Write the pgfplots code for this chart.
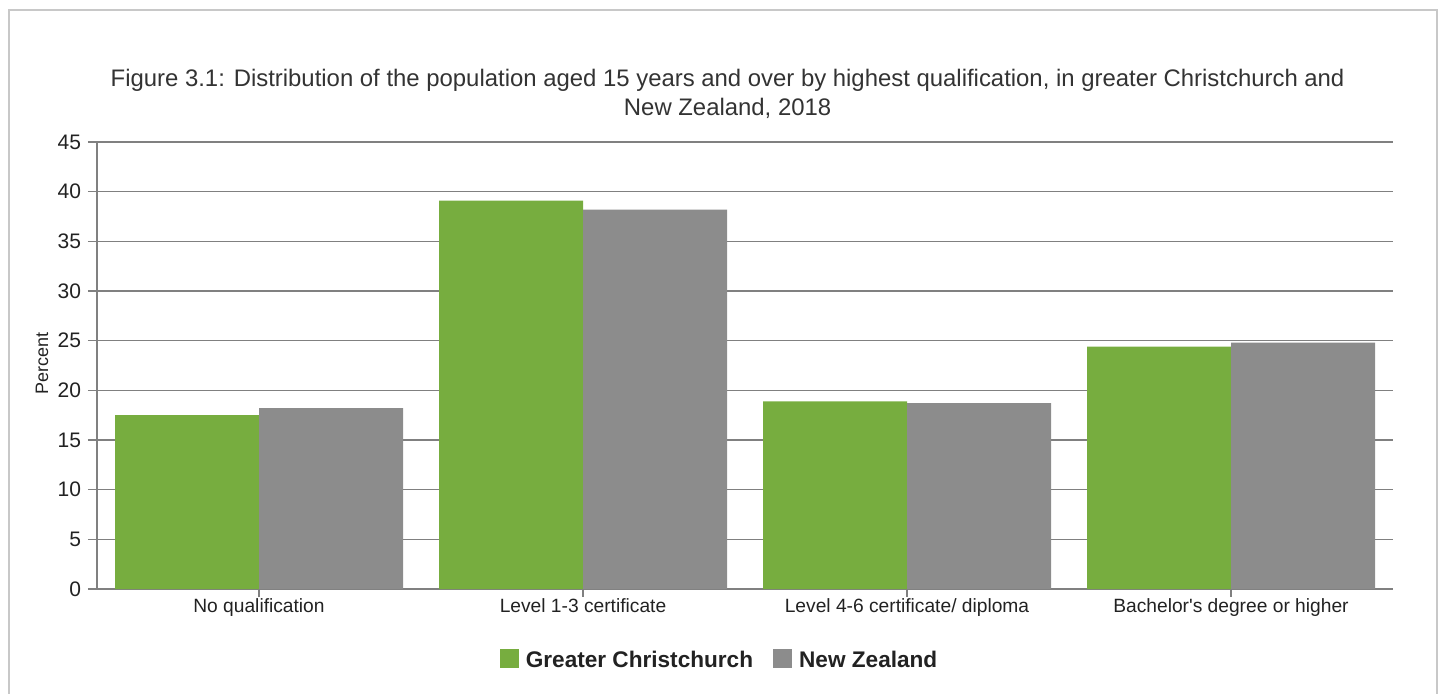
\documentclass[border=0pt]{standalone}
\usepackage{fontspec}
\setmainfont{Liberation Sans}
\usepackage{pgfplots}
\pgfplotsset{compat=1.18}
\definecolor{cgreen}{RGB}{119,173,63}
\definecolor{cgray}{RGB}{140,140,140}
\definecolor{gridc}{RGB}{128,128,128}
\definecolor{framec}{RGB}{200,200,200}
\definecolor{titlec}{RGB}{51,51,51}
\definecolor{textc}{RGB}{34,34,34}
\begin{document}
\begin{tikzpicture}
\path[use as bounding box] (0,0) rectangle (722pt,-347pt);
\draw[framec, line width=1pt] (4.6pt,-352pt) -- (4.6pt,-5pt) -- (718.3pt,-5pt) -- (718.3pt,-352pt);
\node[anchor=base, font=\fontsize{11.95}{14}\selectfont, text=titlec, inner sep=0pt] at (363.8pt,-43.35pt) {Figure 3.1: Distribution of the population aged 15 years and over by highest qualification, in greater Christchurch and};
\node[anchor=base, font=\fontsize{11.95}{14}\selectfont, text=titlec, inner sep=0pt] at (363.8pt,-58pt) {New Zealand, 2018};
\begin{axis}[
  at={(48.5pt,-294.5pt)}, anchor=south west,
  scale only axis, width=648pt, height=223.5pt,
  ymin=0, ymax=45, ytick={0,5,...,45},
  xmin=-0.5, xmax=3.5, xtick={0,1,2,3},
  xticklabels={No qualification, Level 1-3 certificate, Level 4-6 certificate/ diploma, Bachelor\textquotesingle s degree or higher},
  axis x line*=bottom, axis y line*=left,
  axis line style={gridc, line width=0.75pt, -},
  ymajorgrids, grid style={gridc, line width=0.75pt},
  tick align=outside, major tick length=4.5pt,
  tick style={gridc, line width=0.75pt},
  xtick style={/pgfplots/major tick length=3.75pt},
  /pgf/number format/assume math mode=true,
  yticklabel style={font=\fontsize{10.5}{12}\selectfont, text=textc},
  xticklabel style={font=\fontsize{9.6}{11}\selectfont, text=textc, yshift=3.2pt},
  ylabel={Percent},
  every axis y label/.style={at={(axis description cs:-0.04244,0.5034)}, rotate=90, anchor=center, font=\fontsize{9}{11}\selectfont, text=textc},
  ybar=0pt, bar width=72pt,
  legend image code/.code={\fill[#1] (0pt,-3.45pt) rectangle (9.5pt,6.05pt); \path (13pt,0pt);},
  legend style={at={(axis description cs:0.4796,-0.1577)}, anchor=center, draw=none, fill=none,
    font=\bfseries\fontsize{11.3}{13.5}\selectfont, text=textc, inner sep=0pt,
    nodes={inner sep=0pt},
    /tikz/every even column/.append style={column sep=10pt}},
  legend columns=2,
]
\addplot[fill=cgreen, draw=none] coordinates {(0,17.5) (1,39.1) (2,18.9) (3,24.4)};
\addplot[fill=cgray, draw=none] coordinates {(0,18.2) (1,38.2) (2,18.7) (3,24.8)};
\legend{Greater Christchurch, New Zealand}
\end{axis}
\end{tikzpicture}
\end{document}
